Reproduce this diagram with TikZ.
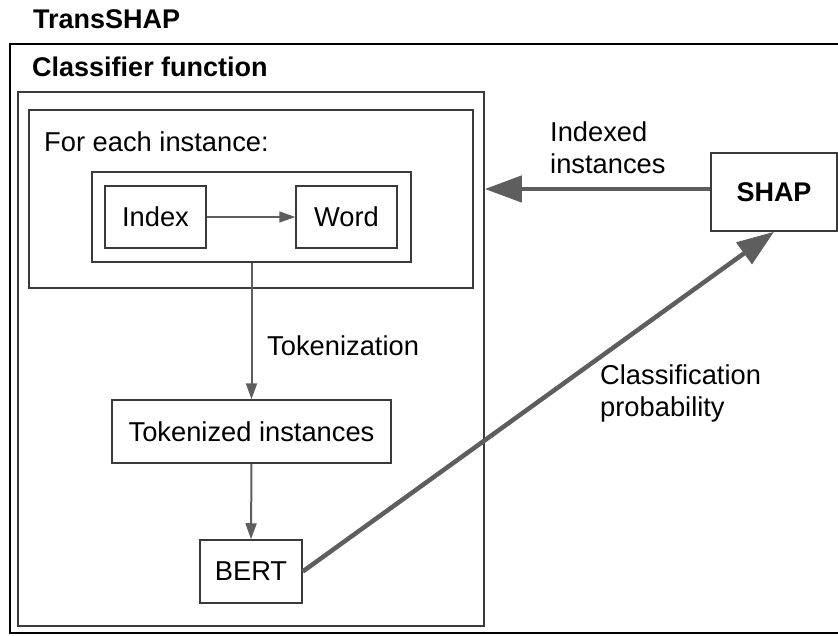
\documentclass[tikz,border=0pt]{standalone}
\usepackage{fontspec}
\setmainfont{Liberation Sans}
\usetikzlibrary{arrows.meta}
\definecolor{Frame}{HTML}{3A3A3A}
\definecolor{Wire}{HTML}{5E5E5E}
\tikzset{panel/.style={draw=Frame,line width=1.5pt,inner sep=0pt},block/.style={draw=Frame,line width=1.5pt,inner sep=0pt,align=center},heading/.style={font=\fontsize{27}{32}\selectfont\bfseries,inner sep=0pt},note/.style={inner sep=0pt,align=left},thin/.style={-{Triangle[length=16pt,width=11pt]},line width=2pt,draw=Wire},bold/.style={-{Triangle[length=37pt,width=26pt]},line width=4.5pt,draw=Wire}}

\begin{document}
\begin{tikzpicture}[x=1pt,y=-1pt,every node/.style={font=\fontsize{27.3}{32}\selectfont}]
        \clip(0,0)rectangle(838,635);
        % outer system frame, its right side runs off the page
        \node[heading,anchor=base west](sys)at(33,28){TransSHAP};
        \draw[line width=2.5pt,black](10,44)rectangle(900,633);
        \node[heading,anchor=base west](clfname)at(32,76){Classifier function};
        \node[panel,minimum width=466pt,minimum height=534pt](clf)at(251,359){};
        \node[panel,minimum width=444pt,minimum height=178pt](loop)at(251,199){};
        \node[note,anchor=base west](looptxt)at(44,151){For each instance:};
        \node[panel,minimum width=319pt,minimum height=90pt](pair)at(251.5,217){};
        \node[block,minimum width=101pt,minimum height=62pt](idx)at(155.5,217){Index};
        \node[block,minimum width=101pt,minimum height=62pt](word)at(346.5,217){Word};
        \node[block,minimum width=279pt,minimum height=63pt](tok)at(251.5,431.5){Tokenized instances};
        \node[block,minimum width=102pt,minimum height=63pt](bert)at(251,571.5){BERT};
        \node[block,font=\fontsize{27}{32}\selectfont\bfseries,minimum width=126pt,minimum height=78pt](shap)at(774,192){SHAP};
        % connectors
        \draw[thin,line width=1.5pt](idx)--(word);
        \draw[thin](pair.south)--(tok.north);
        \draw[thin](tok.south)--(bert.north);
        \draw[bold]([yshift=3pt]shap.west)--([yshift=3pt]clf.east|-shap.west);
        \draw[bold](bert.east)--(shap.south);
        % two-line labels sit on the baseline of their last line
        \node[note,anchor=base west](tokname)at(267,355){Tokenization};
        \node[note,anchor=base west](idxname)at(550,173){Indexed\\instances};
        \node[note,anchor=base west](probname)at(600,416){Classification\\probability};
      \end{tikzpicture}
\end{document}
